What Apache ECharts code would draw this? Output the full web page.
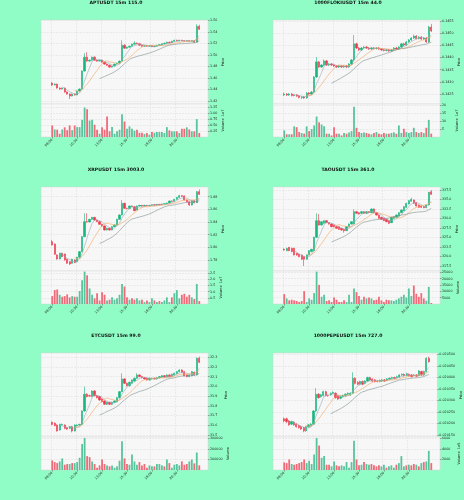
<!DOCTYPE html>
<html>
<head>
<meta charset="utf-8">
<script src="https://cdn.jsdelivr.net/npm/echarts@6/dist/echarts.min.js"></script>
<style>
html,body{margin:0;padding:0;background:#8ffdc5;}
#chart{width:464px;height:500px;}
</style>
</head>
<body>
<div id="chart"></div>
<script>
// 15m candles, 60 per chart
const times = ['08:00','08:15','08:30','08:45','09:00','09:15','09:30','09:45','10:00','10:15','10:30','10:45',
  '11:00','11:15','11:30','11:45','12:00','12:15','12:30','12:45','13:00','13:15','13:30','13:45',
  '14:00','14:15','14:30','14:45','15:00','15:15','15:30','15:45','16:00','16:15','16:30','16:45',
  '17:00','17:15','17:30','17:45','18:00','18:15','18:30','18:45','19:00','19:15','19:30','19:45',
  '20:00','20:15','20:30','20:45','21:00','21:15','21:30','21:45','22:00','22:15','22:30','22:45'];

// [open, close, low, high]
const aptOHLC = [
  [1.4511,1.4477,1.4460,1.4528],[1.4477,1.4494,1.4470,1.4505],[1.4494,1.4425,1.4415,1.4500],[1.4425,1.4408,1.4395,1.4435],
  [1.4408,1.4425,1.4400,1.4432],[1.4425,1.4356,1.4345,1.4430],[1.4356,1.4321,1.4310,1.4365],[1.4321,1.4287,1.4235,1.4330],
  [1.4287,1.4321,1.4280,1.4330],[1.4321,1.4304,1.4295,1.4330],[1.4304,1.4373,1.4300,1.4380],[1.4373,1.4408,1.4365,1.4415],
  [1.4408,1.4719,1.4400,1.4730],[1.4719,1.4961,1.4710,1.5030],[1.4961,1.4892,1.4880,1.5047],[1.4892,1.4909,1.4880,1.4920],
  [1.4909,1.4961,1.4900,1.4970],[1.4961,1.4909,1.4900,1.4975],[1.4909,1.4892,1.4880,1.4920],[1.4892,1.4909,1.4885,1.4915],
  [1.4909,1.4874,1.4865,1.4915],[1.4874,1.4840,1.4830,1.4880],[1.4840,1.4822,1.4810,1.4850],[1.4822,1.4788,1.4775,1.4830],
  [1.4788,1.4805,1.4780,1.4815],[1.4805,1.4840,1.4800,1.4845],[1.4840,1.4857,1.4835,1.4865],[1.4857,1.4892,1.4850,1.4900],
  [1.4892,1.5168,1.4885,1.5254],[1.5168,1.5116,1.5105,1.5185],[1.5116,1.5133,1.5105,1.5145],[1.5133,1.5151,1.5125,1.5160],
  [1.5151,1.5185,1.5145,1.5195],[1.5185,1.5203,1.5175,1.5237],[1.5203,1.5194,1.5185,1.5215],[1.5194,1.5168,1.5160,1.5200],
  [1.5168,1.5151,1.5140,1.5175],[1.5151,1.5160,1.5145,1.5170],[1.5160,1.5151,1.5140,1.5168],[1.5151,1.5160,1.5145,1.5168],
  [1.5160,1.5142,1.5135,1.5168],[1.5142,1.5151,1.5135,1.5160],[1.5151,1.5168,1.5145,1.5175],[1.5168,1.5177,1.5160,1.5185],
  [1.5177,1.5194,1.5170,1.5200],[1.5194,1.5203,1.5185,1.5210],[1.5203,1.5220,1.5195,1.5228],[1.5220,1.5211,1.5200,1.5228],
  [1.5211,1.5237,1.5205,1.5245],[1.5237,1.5254,1.5230,1.5262],[1.5254,1.5246,1.5238,1.5262],[1.5246,1.5254,1.5240,1.5262],
  [1.5254,1.5246,1.5238,1.5260],[1.5246,1.5237,1.5230,1.5252],[1.5237,1.5246,1.5230,1.5254],[1.5246,1.5237,1.5228,1.5252],
  [1.5237,1.5246,1.5230,1.5254],[1.5246,1.5220,1.5212,1.5254],[1.5220,1.5496,1.5215,1.5531],[1.5496,1.5444,1.5435,1.5522]
];
const aptVol = [0.49,0.32,0.31,0.14,0.32,0.41,0.29,0.49,0.29,0.49,0.42,0.42,0.73,1.25,1.18,0.70,0.73,0.52,0.31,0.14,
  0.41,0.31,0.87,0.24,0.42,0.14,0.24,0.31,0.97,0.66,0.35,0.45,0.35,0.27,0.31,0.18,0.18,0.13,0.17,0.10,
  0.21,0.18,0.21,0.21,0.21,0.17,0.42,0.28,0.24,0.24,0.24,0.17,0.35,0.35,0.41,0.32,0.24,0.24,0.76,0.17];
const aptPriceTicks = [1.42,1.44,1.46,1.48,1.50,1.52,1.54,1.56];
const aptVolTicks = [0.25,0.5,0.75,1.0,1.25];

const flokiOHLC = [
  [.14246,.14250,.14242,.14256],[.14250,.14246,.14242,.14254],[.14246,.14250,.14242,.14254],[.14250,.14244,.14240,.14254],
  [.14244,.14246,.14240,.14250],[.14246,.14242,.14238,.14250],[.14242,.14236,.14232,.14246],[.14236,.14238,.14229,.14242],
  [.14238,.14234,.14230,.14242],[.14234,.14254,.14230,.14258],[.14254,.14250,.14246,.14258],[.14250,.14258,.14246,.14262],
  [.14258,.14320,.14254,.14324],[.14320,.14382,.14316,.14402],[.14382,.14361,.14357,.14386],[.14361,.14369,.14357,.14373],
  [.14369,.14386,.14365,.14392],[.14386,.14369,.14365,.14390],[.14369,.14373,.14365,.14377],[.14373,.14369,.14365,.14377],
  [.14369,.14365,.14361,.14373],[.14365,.14361,.14357,.14369],[.14361,.14365,.14357,.14369],[.14365,.14361,.14357,.14369],
  [.14361,.14365,.14357,.14369],[.14365,.14361,.14357,.14369],[.14361,.14373,.14357,.14377],[.14373,.14390,.14369,.14394],
  [.14390,.14456,.14386,.14492],[.14456,.14439,.14435,.14460],[.14439,.14431,.14427,.14443],[.14431,.14439,.14427,.14443],
  [.14439,.14443,.14435,.14447],[.14443,.14439,.14435,.14447],[.14439,.14435,.14431,.14443],[.14435,.14439,.14431,.14443],
  [.14439,.14437,.14433,.14443],[.14437,.14439,.14433,.14443],[.14439,.14435,.14431,.14443],[.14435,.14431,.14427,.14439],
  [.14431,.14429,.14425,.14435],[.14429,.14431,.14425,.14435],[.14431,.14427,.14423,.14435],[.14427,.14431,.14423,.14435],
  [.14431,.14439,.14427,.14443],[.14439,.14435,.14431,.14443],[.14435,.14443,.14431,.14447],[.14443,.14456,.14439,.14460],
  [.14456,.14451,.14447,.14460],[.14451,.14464,.14447,.14468],[.14464,.14472,.14460,.14476],[.14472,.14480,.14468,.14484],
  [.14480,.14488,.14476,.14494],[.14488,.14478,.14474,.14492],[.14478,.14484,.14474,.14488],[.14484,.14476,.14472,.14488],
  [.14476,.14480,.14472,.14484],[.14480,.14464,.14460,.14484],[.14464,.14525,.14460,.14530],[.14525,.14509,.14505,.14538]
];
const flokiVol = [4.2,1.7,1.7,1.7,6.7,6.2,3.1,2.5,2.1,6.7,3.7,5.0,7.3,12.9,9.2,7.9,6.7,2.1,2.1,1.0,
  6.2,2.1,2.1,1.0,2.5,2.1,2.9,3.7,19.1,5.8,3.1,2.5,2.9,2.5,2.1,1.7,2.5,3.1,2.1,1.7,
  2.5,2.1,2.1,2.5,2.9,2.1,7.3,2.5,5.2,3.1,2.5,3.1,5.8,3.1,2.5,3.1,2.5,5.8,10.8,2.1];
const flokiPriceTicks = [0.1425,0.1430,0.1435,0.1440,0.1445,0.1450,0.1455];
const flokiVolTicks = [5,10,15,20];

const xrpOHLC = [
  [1.8090,1.8037,1.8030,1.8116],[1.8053,1.7890,1.7880,1.8060],[1.7879,1.7816,1.7805,1.7890],[1.7816,1.7906,1.7810,1.7915],
  [1.7906,1.7853,1.7845,1.7915],[1.7895,1.7801,1.7790,1.7900],[1.7811,1.7748,1.7740,1.7820],[1.7774,1.7737,1.7722,1.7780],
  [1.7748,1.7811,1.7740,1.7820],[1.7801,1.7759,1.7750,1.7810],[1.7774,1.7843,1.7765,1.7850],[1.7843,1.7932,1.7835,1.7940],
  [1.7932,1.8169,1.7925,1.8180],[1.8169,1.8406,1.8160,1.8537],[1.8406,1.8400,1.8390,1.8537],[1.8400,1.8442,1.8395,1.8450],
  [1.8442,1.8474,1.8435,1.8480],[1.8474,1.8432,1.8425,1.8480],[1.8432,1.8406,1.8400,1.8440],[1.8406,1.8363,1.8355,1.8415],
  [1.8363,1.8337,1.8330,1.8370],[1.8337,1.8274,1.8265,1.8345],[1.8274,1.8300,1.8265,1.8310],[1.8300,1.8274,1.8265,1.8310],
  [1.8274,1.8327,1.8270,1.8335],[1.8327,1.8353,1.8320,1.8360],[1.8353,1.8442,1.8345,1.8450],[1.8442,1.8511,1.8435,1.8520],
  [1.8511,1.8695,1.8505,1.8747],[1.8695,1.8616,1.8605,1.8705],[1.8616,1.8612,1.8600,1.8625],[1.8612,1.8653,1.8605,1.8660],
  [1.8653,1.8642,1.8635,1.8660],[1.8642,1.8579,1.8570,1.8650],[1.8590,1.8653,1.8585,1.8660],[1.8653,1.8663,1.8645,1.8670],
  [1.8663,1.8653,1.8645,1.8670],[1.8653,1.8663,1.8645,1.8670],[1.8663,1.8658,1.8650,1.8670],[1.8658,1.8663,1.8650,1.8670],
  [1.8663,1.8673,1.8655,1.8680],[1.8673,1.8668,1.8660,1.8680],[1.8668,1.8679,1.8660,1.8685],[1.8679,1.8673,1.8665,1.8685],
  [1.8673,1.8684,1.8665,1.8690],[1.8684,1.8690,1.8678,1.8698],[1.8690,1.8700,1.8682,1.8708],[1.8700,1.8732,1.8695,1.8740],
  [1.8732,1.8726,1.8718,1.8740],[1.8726,1.8758,1.8720,1.8765],[1.8758,1.8789,1.8750,1.8795],[1.8789,1.8816,1.8780,1.8830],
  [1.8816,1.8805,1.8795,1.8826],[1.8811,1.8747,1.8740,1.8820],[1.8747,1.8721,1.8712,1.8755],[1.8721,1.8668,1.8655,1.8728],
  [1.8668,1.8737,1.8660,1.8745],[1.8737,1.8705,1.8695,1.8745],[1.8705,1.8879,1.8700,1.8890],[1.8879,1.8837,1.8828,1.8916]
];
const xrpVol = [0.64,1.13,1.18,0.75,0.59,0.64,0.78,0.54,0.64,0.59,0.59,1.05,1.93,2.63,2.33,1.26,0.75,0.46,0.88,0.29,
  0.96,0.75,0.29,0.35,0.54,0.35,0.46,0.75,1.63,1.42,0.54,0.35,0.46,0.35,0.46,0.29,0.35,0.16,0.29,0.16,
  0.46,0.29,0.16,0.24,0.16,0.29,0.54,0.16,0.54,0.88,1.13,0.46,0.75,0.83,0.59,0.75,0.54,0.40,1.63,0.24];
const xrpPriceTicks = [1.78,1.80,1.82,1.84,1.86,1.88];
const xrpVolTicks = [0.5,1.0,1.5,2.0,2.5];

const taoOHLC = [
  [321.89,321.71,321.54,322.15],[321.54,322.15,321.40,322.30],[322.42,321.54,321.40,322.50],[322.15,321.28,321.10,322.30],
  [322.15,320.40,320.30,322.30],[320.84,320.40,320.20,320.95],[320.57,319.96,319.80,320.70],[320.40,319.26,319.10,320.50],
  [319.96,319.26,317.50,320.10],[319.26,320.40,319.10,320.50],[320.40,321.54,320.30,321.70],[321.28,321.89,321.10,322.00],
  [321.54,325.05,321.40,325.20],[325.05,329.43,324.90,331.36],[329.43,328.29,328.10,331.19],[328.29,329.17,328.10,329.30],
  [328.73,329.43,328.60,329.60],[329.43,328.91,328.80,329.60],[328.91,328.55,328.40,329.05],[328.55,327.85,327.70,328.70],
  [328.29,327.85,327.70,328.40],[327.85,327.41,327.30,328.00],[327.85,327.15,327.00,328.00],[327.41,326.98,326.80,327.55],
  [327.15,326.80,326.27,327.30],[326.80,327.85,326.70,328.00],[327.85,328.55,327.70,328.70],[328.55,329.17,328.40,329.30],
  [328.55,331.80,328.40,332.41],[331.80,331.36,331.20,332.00],[331.54,331.19,331.00,331.70],[331.36,331.80,331.20,331.95],
  [331.80,331.36,331.20,331.95],[331.36,331.80,331.20,331.95],[331.80,331.54,331.40,331.95],[331.54,332.50,331.40,332.65],
  [332.50,331.54,331.40,332.65],[331.54,330.92,330.80,331.70],[330.92,330.05,329.90,331.05],[330.31,329.78,329.60,330.45],
  [330.05,329.43,329.30,330.20],[329.78,329.17,329.00,329.90],[329.43,328.73,328.55,329.60],[328.91,330.31,328.80,330.45],
  [330.05,330.48,329.90,330.60],[330.31,330.92,330.20,331.05],[330.66,331.54,330.50,331.70],[331.54,332.24,331.40,332.40],
  [332.06,333.12,331.90,333.25],[332.94,333.99,332.80,334.10],[333.82,334.69,333.70,334.85],[334.52,335.04,334.40,335.48],
  [334.87,333.99,333.85,335.00],[334.17,333.29,333.15,334.30],[333.55,332.94,332.80,333.70],[333.29,332.94,332.80,333.40],
  [333.12,332.85,332.70,333.25],[332.85,333.55,332.70,333.70],[333.55,336.89,333.40,337.00],[337.06,336.36,336.20,337.50]
];
const taoVol = [7830,4440,2870,3390,2870,2350,1570,2350,10180,1570,4440,3390,8610,25580,15140,5740,7310,2350,2870,1570,
  5220,3390,1570,1570,2870,1570,7310,1570,12270,9400,6260,3390,5740,4440,5220,4440,2870,3390,5740,2870,
  1570,3390,2870,2870,2350,3390,4440,5740,7310,5220,12270,6260,14620,8090,5740,8610,4440,2610,13570,780];
const taoPriceTicks = [317.5,320.0,322.5,325.0,327.5,330.0,332.5,335.0,337.5];
const taoVolTicks = [5000,10000,15000,20000,25000];

const etcOHLC = [
  [31.630,31.609,31.600,31.640],[31.620,31.596,31.590,31.630],[31.602,31.541,31.535,31.610],[31.551,31.609,31.545,31.615],
  [31.602,31.609,31.595,31.618],[31.602,31.568,31.560,31.610],[31.575,31.561,31.552,31.582],[31.568,31.585,31.560,31.592],
  [31.585,31.541,31.527,31.592],[31.541,31.602,31.535,31.610],[31.596,31.602,31.588,31.610],[31.602,31.609,31.595,31.615],
  [31.609,31.747,31.602,31.755],[31.747,31.919,31.740,31.998],[31.919,31.895,31.888,31.930],[31.905,31.900,31.893,31.915],
  [31.895,31.953,31.888,31.960],[31.953,31.905,31.898,31.962],[31.905,31.884,31.877,31.912],[31.895,31.860,31.852,31.902],
  [31.871,31.843,31.835,31.878],[31.850,31.816,31.808,31.858],[31.816,31.836,31.808,31.843],[31.836,31.816,31.808,31.843],
  [31.816,31.836,31.808,31.843],[31.836,31.850,31.830,31.857],[31.843,31.884,31.836,31.891],[31.884,31.946,31.877,31.953],
  [31.946,32.077,31.940,32.135],[32.077,32.032,32.025,32.085],[32.032,32.008,32.000,32.040],[32.008,32.042,32.000,32.050],
  [32.032,32.066,32.025,32.073],[32.056,32.084,32.050,32.091],[32.084,32.118,32.077,32.135],[32.118,32.101,32.094,32.125],
  [32.101,32.090,32.083,32.108],[32.090,32.077,32.070,32.097],[32.084,32.066,32.059,32.091],[32.066,32.084,32.059,32.091],
  [32.077,32.084,32.070,32.091],[32.084,32.077,32.070,32.091],[32.077,32.090,32.070,32.097],[32.090,32.101,32.083,32.108],
  [32.097,32.111,32.090,32.118],[32.111,32.097,32.090,32.118],[32.097,32.118,32.090,32.125],[32.118,32.101,32.094,32.125],
  [32.101,32.125,32.094,32.132],[32.118,32.135,32.111,32.142],[32.132,32.152,32.125,32.159],[32.152,32.169,32.145,32.176],
  [32.169,32.145,32.138,32.176],[32.152,32.111,32.104,32.159],[32.118,32.101,32.094,32.125],[32.101,32.118,32.094,32.125],
  [32.111,32.152,32.104,32.159],[32.145,32.118,32.111,32.152],[32.118,32.290,32.111,32.298],[32.290,32.248,32.240,32.307]
];
const etcVol = [90500,74900,65500,81100,109200,49900,56200,56200,65500,65500,74900,115400,246500,302600,131000,121700,81100,56200,21800,43700,
  99800,56200,43700,34300,43700,21800,34300,87400,271400,109200,56200,49900,146600,81100,49900,74900,43700,56200,21800,43700,
  34300,34300,56200,56200,43700,34300,99800,65500,21800,49900,56200,43700,81100,49900,56200,81100,99800,62400,165400,43700];
const etcPriceTicks = [31.5,31.6,31.7,31.8,31.9,32.0,32.1,32.2,32.3];
const etcVolTicks = [100000,200000,300000];

const pepeOHLC = [
  [0.020220,0.020211,0.020205,0.020226],[0.020220,0.020208,0.020202,0.020225],[0.020211,0.020194,0.020190,0.020215],[0.020197,0.020208,0.020193,0.020212],
  [0.020205,0.020194,0.020190,0.020210],[0.020197,0.020186,0.020182,0.020201],[0.020191,0.020182,0.020178,0.020195],[0.020186,0.020176,0.020172,0.020190],
  [0.020182,0.020168,0.020162,0.020186],[0.020168,0.020186,0.020164,0.020190],[0.020186,0.020194,0.020182,0.020198],[0.020191,0.020197,0.020187,0.020201],
  [0.020197,0.020254,0.020193,0.020258],[0.020254,0.020327,0.020250,0.020353],[0.020327,0.020312,0.020308,0.020331],[0.020316,0.020324,0.020312,0.020328],
  [0.020321,0.020338,0.020317,0.020342],[0.020338,0.020321,0.020317,0.020342],[0.020321,0.020320,0.020316,0.020325],[0.020324,0.020331,0.020320,0.020335],
  [0.020331,0.020335,0.020327,0.020339],[0.020331,0.020312,0.020308,0.020335],[0.020321,0.020306,0.020302,0.020325],[0.020309,0.020316,0.020305,0.020320],
  [0.020316,0.020321,0.020312,0.020325],[0.020321,0.020327,0.020317,0.020331],[0.020327,0.020331,0.020323,0.020335],[0.020324,0.020331,0.020320,0.020335],
  [0.020331,0.020396,0.020327,0.020422],[0.020396,0.020374,0.020370,0.020400],[0.020379,0.020370,0.020366,0.020383],[0.020370,0.020382,0.020366,0.020386],
  [0.020382,0.020370,0.020366,0.020386],[0.020374,0.020384,0.020370,0.020388],[0.020384,0.020399,0.020380,0.020403],[0.020399,0.020389,0.020385,0.020403],
  [0.020392,0.020384,0.020380,0.020396],[0.020389,0.020382,0.020378,0.020393],[0.020384,0.020382,0.020378,0.020388],[0.020382,0.020387,0.020378,0.020391],
  [0.020384,0.020389,0.020380,0.020393],[0.020389,0.020384,0.020380,0.020393],[0.020387,0.020393,0.020383,0.020397],[0.020392,0.020396,0.020388,0.020400],
  [0.020396,0.020399,0.020392,0.020403],[0.020399,0.020396,0.020392,0.020403],[0.020399,0.020403,0.020395,0.020407],[0.020402,0.020410,0.020398,0.020414],
  [0.020410,0.020413,0.020406,0.020417],[0.020413,0.020408,0.020404,0.020417],[0.020408,0.020416,0.020404,0.020420],[0.020413,0.020408,0.020404,0.020417],
  [0.020410,0.020403,0.020399,0.020414],[0.020408,0.020410,0.020404,0.020414],[0.020410,0.020405,0.020401,0.020414],[0.020408,0.020428,0.020404,0.020432],
  [0.020425,0.020410,0.020406,0.020429],[0.020410,0.020425,0.020406,0.020429],[0.020425,0.020483,0.020421,0.020487],[0.020483,0.020468,0.020464,0.020490]
];
const pepeVol = [1440,1310,2000,1130,1000,1130,1310,1500,2000,1310,1750,1130,2940,6060,4630,2310,2630,1000,1000,690,
  1630,880,690,880,690,1500,440,1500,5560,2000,880,1000,1500,1130,1000,1130,880,690,880,690,
  1000,440,690,880,440,1000,1310,2630,690,880,1000,880,1130,1000,690,1310,1500,1630,3630,1310];
const pepePriceTicks = [0.02015,0.02020,0.02025,0.02030,0.02035,0.02040,0.02045,0.02050];
const pepeVolTicks = [2000,4000,6000];

const UP = '#16b67c', DOWN = '#f0384c';
const VUP = '#57c59b', VDOWN = '#f06a78';
const MA_COLORS = ['#9aa7b6', '#f4a460', '#7f8e8e'];
const MA_PERIODS = [5, 10, 20];
const PAD_L = 4, PAD_R = 3;
const FONT = 'DejaVu Sans';

const panels = [
  {title:'APTUSDT 15m 115.0', ohlc:aptOHLC, vol:aptVol, pTicks:aptPriceTicks, vTicks:aptVolTicks,
   pMin:1.4148, pMax:1.5605, vMax:1.4, pDec:2, vDec:2, vName:'Volume  1e7', gap:11},
  {title:'1000FLOKIUSDT 15m 44.0', ohlc:flokiOHLC, vol:flokiVol, pTicks:flokiPriceTicks, vTicks:flokiVolTicks,
   pMin:0.14209, pMax:0.14554, vMax:20.8, pDec:4, vDec:0, vName:'Volume  1e7', gap:15},
  {title:'XRPUSDT 15m 3003.0', ohlc:xrpOHLC, vol:xrpVol, pTicks:xrpPriceTicks, vTicks:xrpVolTicks,
   pMin:1.7626, pMax:1.8953, vMax:2.68, pDec:2, vDec:1, vName:'Volume  1e7', gap:11},
  {title:'TAOUSDT 15m 361.0', ohlc:taoOHLC, vol:taoVol, pTicks:taoPriceTicks, vTicks:taoVolTicks,
   pMin:316.18, pMax:338.29, vMax:26100, pDec:1, vDec:0, vName:'Volume', gap:14},
  {title:'ETCUSDT 15m 99.0', ohlc:etcOHLC, vol:etcVol, pTicks:etcPriceTicks, vTicks:etcVolTicks,
   pMin:31.479, pMax:32.344, vMax:312000, pDec:1, vDec:0, vName:'Volume', gap:16},
  {title:'1000PEPEUSDT 15m 727.0', ohlc:pepeOHLC, vol:pepeVol, pTicks:pepePriceTicks, vTicks:pepeVolTicks,
   pMin:0.0201413, pMax:0.0205056, vMax:6250, pDec:6, vDec:0, vName:'Volume  1e5', gap:17}
];

const colLeft = [41, 273], rowTop = [20, 187, 353];
const PRICE_H = 84, VOL_H = 33, PLOT_W = 167;

const cats = Array(PAD_L).fill('').concat(times, Array(PAD_R).fill(''));
function padded(arr) {
  return Array(PAD_L).fill('-').concat(arr, Array(PAD_R).fill('-'));
}
function sma(ohlc, n) {
  return ohlc.map((d, i) => {
    if (i < n - 1) return '-';
    let s = 0;
    for (let k = i - n + 1; k <= i; k++) s += ohlc[k][1];
    return s / n;
  });
}
const tickAt = (i) => i >= PAD_L && i < PAD_L + times.length && (i - PAD_L) % 10 === 0;

const grid = [], xAxis = [], yAxis = [], series = [], title = [];
const gridLine = {color: '#dcdcdc', width: 0.5, type: 'dashed'};

panels.forEach((p, k) => {
  const left = colLeft[k % 2], top = rowTop[Math.floor(k / 2)];
  const gp = k * 2, gv = k * 2 + 1;

  title.push({
    text: p.title, left: left - 41 + 116, top: top - 20, textAlign: 'center', padding: 0,
    textStyle: {fontSize: 4.6, fontWeight: 'bold', color: '#111', fontFamily: FONT}
  });

  grid.push({left: left, top: top, width: PLOT_W, height: PRICE_H, show: true,
    backgroundColor: '#f7f7f7', borderColor: '#d4d4d4', borderWidth: 0.5});
  grid.push({left: left, top: top + PRICE_H, width: PLOT_W, height: VOL_H, show: true,
    backgroundColor: '#f7f7f7', borderColor: '#d4d4d4', borderWidth: 0.5});

  xAxis.push({type: 'category', gridIndex: gp, data: cats, boundaryGap: true,
    axisLine: {show: false}, axisTick: {show: false}, axisLabel: {show: false},
    splitLine: {show: true, interval: tickAt, lineStyle: gridLine}});
  xAxis.push({type: 'category', gridIndex: gv, data: cats, boundaryGap: true,
    axisLine: {show: false},
    axisTick: {show: true, interval: tickAt, alignWithLabel: true, length: 1.5, lineStyle: {color: '#555', width: 0.5}},
    axisLabel: {show: true, interval: tickAt, rotate: 45, fontSize: 3.3, margin: 2.5, color: '#222', fontFamily: FONT},
    splitLine: {show: true, interval: tickAt, lineStyle: gridLine}});

  yAxis.push({type: 'value', gridIndex: gp, position: 'right', min: p.pMin, max: p.pMax,
    axisLine: {show: false},
    axisTick: {show: true, length: 1.5, customValues: p.pTicks, lineStyle: {color: '#555', width: 0.5}},
    axisLabel: {fontSize: 3.3, margin: 2, color: '#222', fontFamily: FONT, customValues: p.pTicks,
      formatter: (v) => v.toFixed(p.pDec)},
    splitLine: {show: true, lineStyle: gridLine},
    name: 'Price', nameLocation: 'middle', nameGap: p.gap, nameRotate: 90,
    nameTextStyle: {fontSize: 3.5, color: '#222', fontFamily: FONT}});
  yAxis.push({type: 'value', gridIndex: gv, position: 'right', min: 0, max: p.vMax,
    axisLine: {show: false},
    axisTick: {show: true, length: 1.5, customValues: p.vTicks, lineStyle: {color: '#555', width: 0.5}},
    axisLabel: {fontSize: 3.3, margin: 2, color: '#222', fontFamily: FONT, customValues: p.vTicks,
      formatter: (v) => v.toFixed(p.vDec)},
    splitLine: {show: true, lineStyle: gridLine},
    name: p.vName, nameLocation: 'middle', nameGap: p.gap, nameRotate: 90,
    nameTextStyle: {fontSize: 3.5, color: '#222', fontFamily: FONT}});

  series.push({type: 'candlestick', xAxisIndex: gp, yAxisIndex: gp, data: padded(p.ohlc),
    barWidth: '72%',
    itemStyle: {color: UP, color0: DOWN, borderColor: UP, borderColor0: DOWN, borderWidth: 0.6}});
  MA_PERIODS.forEach((n, j) => {
    series.push({type: 'line', xAxisIndex: gp, yAxisIndex: gp, data: padded(sma(p.ohlc, n)),
      symbol: 'none', lineStyle: {width: 0.6, color: MA_COLORS[j]}, z: 3});
  });
  series.push({type: 'bar', xAxisIndex: gv, yAxisIndex: gv, barWidth: '72%',
    data: padded(p.vol.map((v, i) => ({
      value: v, itemStyle: {color: p.ohlc[i][1] >= p.ohlc[i][0] ? VUP : VDOWN}
    })))});
});

const chart = echarts.init(document.getElementById('chart'), null, {renderer: 'canvas'});
chart.setOption({
  backgroundColor: '#8ffdc5',
  animation: false,
  title: title,
  grid: grid,
  xAxis: xAxis,
  yAxis: yAxis,
  series: series
});
</script>
</body>
</html>
